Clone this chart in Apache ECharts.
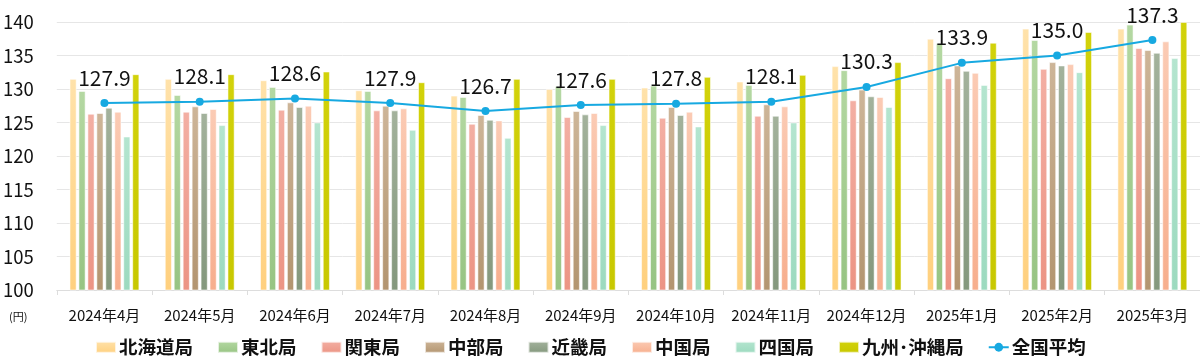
<!DOCTYPE html>
<html>
<head>
<meta charset="utf-8">
<script src="https://cdn.jsdelivr.net/npm/echarts@6/dist/echarts.min.js"></script>
<style>html,body{margin:0;padding:0;background:#fff;}#c{width:1200px;height:359px;}</style>
</head>
<body>
<div id="c"></div>
<script>
const categories = ['2024年4月','2024年5月','2024年6月','2024年7月','2024年8月','2024年9月','2024年10月','2024年11月','2024年12月','2025年1月','2025年2月','2025年3月'];
const hokkaido = [131.5,131.5,131.3,129.8,129.0,130.0,130.2,131.1,133.4,137.5,139.0,139.0];
const tohoku   = [129.7,129.1,130.3,129.7,128.8,130.4,130.5,130.6,132.8,136.8,137.3,139.6];
const kanto    = [126.3,126.6,126.9,126.8,124.8,125.8,125.7,126.0,128.3,131.6,133.0,136.1];
const chubu    = [126.4,127.4,128.0,127.5,126.1,126.7,127.3,127.7,129.9,133.5,134.0,135.8];
const kinki    = [127.2,126.4,127.3,126.8,125.4,126.2,126.1,126.0,128.9,132.7,133.5,135.4];
const chugoku  = [126.6,127.0,127.5,127.1,125.3,126.4,126.6,127.4,128.8,132.4,133.7,137.1];
const shikoku  = [122.9,124.6,125.0,123.9,122.7,124.6,124.4,125.0,127.3,130.6,132.5,134.6];
const kyushu   = [132.2,132.2,132.6,131.0,131.5,131.5,131.8,132.1,134.0,136.9,138.5,140.0];
const national = [127.9,128.1,128.6,127.9,126.7,127.6,127.8,128.1,130.3,133.9,135.0,137.3];
const yTicks = [100,105,110,115,120,125,130,135,140];

const barSeries = [
  ['北海道局', hokkaido, '#FFE2AA', '#FFD07E'],
  ['東北局', tohoku, '#B4D8A2', '#97C483'],
  ['関東局', kanto, '#F3AFA3', '#EC9484'],
  ['中部局', chubu, '#CDB598', '#B39570'],
  ['近畿局', kinki, '#A3B29C', '#84987D'],
  ['中国局', chugoku, '#FBCBB4', '#F7AE8D'],
  ['四国局', shikoku, '#B4E5CF', '#9CDABF'],
  ['九州･沖縄局', kyushu, '#D2D20A', '#C8C800']
];
const FONT = '"Noto Sans CJK JP", "Noto Sans", sans-serif';
const series = barSeries.map(([name, data, top, bot]) => ({
  name, type: 'bar', data, barWidth: 7, barGap: '28%',
  itemStyle: {
    color: new echarts.graphic.LinearGradient(0,0,0,1,[{offset:0,color:top},{offset:1,color:bot}]),
    borderColor: 'rgba(255,255,255,0.7)', borderWidth: 0.8
  }
}));
series.push({
  name: '全国平均', type: 'line', data: national,
  symbol: 'circle', symbolSize: 8,
  lineStyle: { color: '#17A9E1', width: 2 },
  itemStyle: { color: '#17A9E1' },
  z: 10,
  label: { show: true, position: 'top', distance: 11, fontSize: 21, color: '#111', fontFamily: FONT,
    formatter: p => p.value.toFixed(1) }
});

const chart = echarts.init(document.getElementById('c'));
chart.setOption({
  animation: false,
  textStyle: { fontFamily: FONT },
  grid: { left: 56, right: 0, top: 22, bottom: 69, containLabel: false },
  legend: {
    top: 333, left: 90, itemWidth: 20, itemHeight: 11, itemGap: 24,
    textStyle: { fontSize: 18.5, fontWeight: 'bold', color: '#111', fontFamily: FONT, padding: [0,0,0,-2] },
    data: barSeries.map(s => ({ name: s[0], icon: 'rect' })).concat([{ name: '全国平均' }])
  },
  graphic: [{ type: 'text', left: 9, top: 311, style: { text: '(円)', fontSize: 11, fill: '#111', fontFamily: FONT } }],
  xAxis: {
    type: 'category', data: categories,
    axisLine: { lineStyle: { color: '#dddddd' } },
    axisTick: { show: true, length: 5, lineStyle: { color: '#dddddd' } },
    axisLabel: { fontSize: 15, color: '#111', margin: 18, fontFamily: FONT, interval: 0 }
  },
  yAxis: {
    type: 'value', min: yTicks[0], max: yTicks[yTicks.length-1], interval: 5,
    axisLine: { show: false }, axisTick: { show: false },
    splitLine: { lineStyle: { color: '#e6e6e6' } },
    axisLabel: { fontSize: 18.5, color: '#111', margin: 23, fontFamily: FONT }
  },
  series
});
</script>
</body>
</html>
